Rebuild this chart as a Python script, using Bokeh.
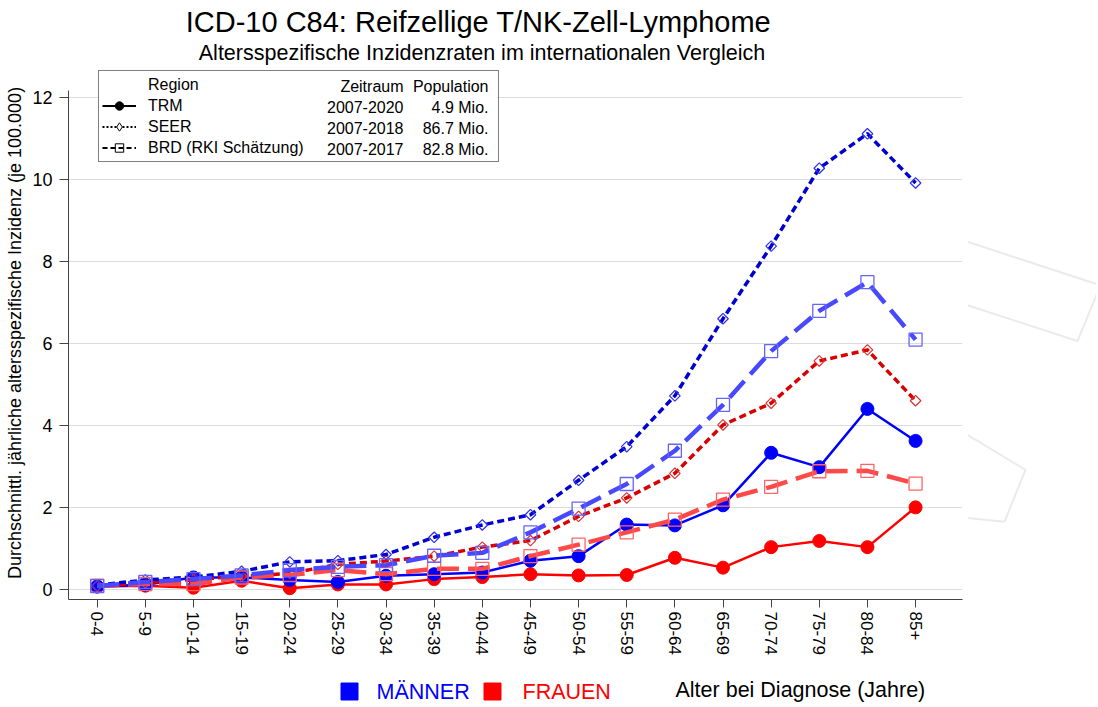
import math
from bokeh.plotting import figure
from bokeh.layouts import column, row
from bokeh.models import (Range1d, FixedTicker, SingleIntervalTicker, Legend, LegendItem,
                          Label, BoxAnnotation, ColumnDataSource)
from bokeh.core.properties import value
from bokeh.embed import file_html
from bokeh.resources import INLINE

# ---------------- data ----------------
ages = ["0-4", "5-9", "10-14", "15-19", "20-24", "25-29", "30-34", "35-39", "40-44",
        "45-49", "50-54", "55-59", "60-64", "65-69", "70-74", "75-79", "80-84", "85+"]

trm_men = [0.08, 0.12, 0.30, 0.30, 0.24, 0.19, 0.34, 0.38, 0.42, 0.71, 0.82, 1.59, 1.57,
           2.06, 3.34, 2.99, 4.41, 3.63]
trm_women = [0.08, 0.10, 0.05, 0.22, 0.04, 0.13, 0.13, 0.26, 0.31, 0.38, 0.35, 0.36, 0.78,
             0.54, 1.04, 1.19, 1.04, 2.01]
seer_men = [0.11, 0.24, 0.31, 0.45, 0.68, 0.71, 0.86, 1.28, 1.58, 1.83, 2.67, 3.49, 4.73,
            6.61, 8.38, 10.28, 11.12, 9.92]
seer_women = [0.09, 0.17, 0.25, 0.33, 0.40, 0.62, 0.70, 0.82, 1.04, 1.20, 1.79, 2.24, 2.84,
              4.02, 4.55, 5.58, 5.85, 4.61]
brd_men = [0.09, 0.19, 0.26, 0.35, 0.48, 0.56, 0.60, 0.83, 0.90, 1.40, 1.98, 2.58, 3.39,
           4.51, 5.82, 6.80, 7.50, 6.10]
brd_women = [0.10, 0.14, 0.14, 0.30, 0.36, 0.48, 0.38, 0.51, 0.51, 0.82, 1.10, 1.40, 1.71,
             2.20, 2.51, 2.89, 2.90, 2.59]

regions = ["TRM", "SEER", "BRD (RKI Schätzung)"]
zeitraum = ["2007-2020", "2007-2018", "2007-2017"]
population = ["4.9 Mio.", "86.7 Mio.", "82.8 Mio."]

title = "ICD-10 C84: Reifzellige T/NK-Zell-Lymphome"
subtitle = "Altersspezifische Inzidenzraten im internationalen Vergleich"
ylabel = "Durchschnittl. jährliche altersspezifische Inzidenz (je 100.000)"
xlabel = "Alter bei Diagnose (Jahre)"
sex_labels = ["MÄNNER", "FRAUEN"]
sex_colors = ["#0000FF", "#FF0000"]

FONT = "Liberation Sans"
W = 1096
TOP_H = 66
MID_H = 596
BOT_H = 43
MAIN_W = 967
NAN = float("nan")


def blank_fig(w, h, x0, x1, y_top, y_bot):
    f = figure(width=w, height=h, output_backend="svg", toolbar_location=None,
               x_range=Range1d(x0, x1), y_range=Range1d(y_bot, y_top),
               x_axis_type=None, y_axis_type=None,
               min_border_left=0, min_border_right=0, min_border_top=0,
               min_border_bottom=0)
    f.outline_line_color = None
    f.xgrid.visible = False
    f.ygrid.visible = False
    f.background_fill_color = "white"
    f.border_fill_color = "white"
    return f


# ---------------- title strip ----------------
top = blank_fig(W, TOP_H, 0, W, 0, TOP_H)
top.text(x=[478, 481.5], y=[21, 52], text=[title, subtitle], text_align="center",
         text_baseline="middle", text_font=value(FONT),
         text_font_size=["29px", "21.5px"], text_color="black")

# ---------------- main chart ----------------
x = list(range(len(ages)))

p = figure(width=MAIN_W, height=MID_H, output_backend="svg", toolbar_location=None,
           x_range=Range1d(-0.596, 17.975), y_range=Range1d(-0.237, 12.76),
           min_border_left=68, min_border_right=5, min_border_top=0,
           min_border_bottom=63)
p.outline_line_color = None
p.background_fill_color = "white"
p.border_fill_color = "white"

p.xgrid.visible = False
p.ygrid.grid_line_color = "#dcdcdc"
p.ygrid.grid_line_width = 1

p.yaxis.ticker = SingleIntervalTicker(interval=2)
p.yaxis.bounds = (-0.237, 12.18)
p.yaxis.axis_label = ylabel
p.yaxis.axis_label_text_font = FONT
p.yaxis.axis_label_text_font_size = "18px"
p.yaxis.axis_label_text_font_style = "normal"
p.yaxis.axis_label_text_color = "black"
p.yaxis.axis_label_standoff = 4
p.yaxis.major_label_text_font = FONT
p.yaxis.major_label_text_font_size = "18px"
p.yaxis.major_label_text_color = "black"
p.yaxis.major_label_standoff = 7
p.yaxis.major_tick_out = 9
p.yaxis.major_tick_in = 0
p.yaxis.minor_tick_line_color = None

p.xaxis.ticker = FixedTicker(ticks=x)
p.xaxis.major_label_overrides = {i: a for i, a in zip(x, ages)}
p.xaxis.major_label_orientation = -math.pi / 2
p.xaxis.major_label_text_font = FONT
p.xaxis.major_label_text_font_size = "17px"
p.xaxis.major_label_text_color = "black"
p.xaxis.major_label_standoff = 4
p.xaxis.major_tick_out = 8
p.xaxis.major_tick_in = 0
p.xaxis.minor_tick_line_color = None

for ax in (p.xaxis, p.yaxis):
    ax.axis_line_color = "#444444"
    ax.major_tick_line_color = "#444444"
    ax.axis_line_width = 1

# white panel behind the legend table (covers the grid line like the reference)
p.add_layout(BoxAnnotation(left=0.027, right=8.315, top=12.62, bottom=10.42,
                           fill_color="white", fill_alpha=1, line_color=None,
                           level="underlay"))


def series(vals, color, dash, width, marker, msize, mline, mfill, mlw, angle=0.0):
    src = ColumnDataSource(dict(x=x, y=vals))
    p.line("x", "y", source=src, line_color=color, line_width=width, line_dash=dash,
           line_join="round")
    p.scatter("x", "y", source=src, marker=marker, size=msize, line_color=mline,
              fill_color=mfill, line_width=mlw, angle=angle)


series(trm_women, "#FF0000", "solid", 2.5, "circle", 13, "#FF0000", "#FF0000", 1)
series(trm_men, "#0000FF", "solid", 2.5, "circle", 13, "#0000FF", "#0000FF", 1)
series(seer_women, "#D80000", "7 4", 3.5, "square", 7.5, "#E03030", None, 1.2, math.pi / 4)
series(seer_men, "#0000D0", "7 4", 3.5, "square", 7.5, "#3030F0", None, 1.2, math.pi / 4)
series(brd_women, "#FF4848", "22 9", 4.5, "square", 13, "#FF6464", None, 1.3)
series(brd_men, "#4848FF", "22 9", 4.5, "square", 13, "#6464FF", None, 1.3)

# legend (region table) with black sample glyphs (renderers hold one invisible NaN point)
r_hdr = p.line([NAN], [NAN], line_alpha=0)
r_trm_l = p.line([NAN], [NAN], line_color="black", line_width=2)
r_trm_m = p.scatter([NAN], [NAN], marker="circle", size=12, color="black")
r_seer_l = p.line([NAN], [NAN], line_color="black", line_width=2, line_dash="2 2")
r_seer_m = p.scatter([NAN], [NAN], marker="diamond", size=13,
                     line_color="black", fill_color="white", line_width=1)
r_brd_l = p.line([NAN], [NAN], line_color="black", line_width=2, line_dash="5 3")
r_brd_m = p.scatter([NAN], [NAN], marker="square", size=11, line_color="black",
                    fill_color=None, line_width=1)

leg = Legend(items=[LegendItem(label="Region", renderers=[r_hdr]),
                    LegendItem(label=regions[0], renderers=[r_trm_l, r_trm_m]),
                    LegendItem(label=regions[1], renderers=[r_seer_l, r_seer_m]),
                    LegendItem(label=regions[2], renderers=[r_brd_l, r_brd_m])],
             location=(30, 437), orientation="vertical",
             border_line_color="black", border_line_width=1.5,
             background_fill_alpha=0,
             padding=3, spacing=0, margin=0,
             glyph_width=34, glyph_height=21, label_height=21, label_standoff=12,
             label_width=347, label_text_font=FONT, label_text_font_size="16px",
             label_text_color="black")
p.add_layout(leg)

row_y = [85.5 - TOP_H, 106.5 - TOP_H, 127.5 - TOP_H, 148.5 - TOP_H]
cols = [("Zeitraum", zeitraum, 403), ("Population", population, 488)]
for head, vals, xr in cols:
    for txt, yy in zip([head] + vals, row_y):
        p.add_layout(Label(x=xr, y=yy, x_units="canvas", y_units="canvas", text=txt,
                           text_align="right", text_baseline="middle", text_font=FONT,
                           text_font_size="16px", text_color="black"))

# ---------------- faint background logo at the right ----------------
wm = blank_fig(W - MAIN_W, MID_H, MAIN_W, W, TOP_H, TOP_H + MID_H)
wm.multi_line(xs=[[967, 1098], [1098, 1077, 967], [967, 1025, 1004, 967]],
              ys=[[262, 310], [316, 373, 333], [478, 517, 575, 571]],
              line_color="#ebebeb", line_width=2)

# ---------------- bottom strip: sex legend + x-axis title ----------------
bot = blank_fig(W, BOT_H, 0, W, TOP_H + MID_H, TOP_H + MID_H + BOT_H)
bot.scatter(x=[349, 492], y=[691, 691], marker="square", size=17, color=sex_colors)
bot.text(x=[376, 522], y=[691, 691], text=sex_labels, text_color=sex_colors,
         text_align="left", text_baseline="middle", text_font=value(FONT),
         text_font_size="21.5px")
bot.text(x=[675], y=[689], text=[xlabel], text_color="black", text_align="left",
         text_baseline="middle", text_font=value(FONT), text_font_size="21.5px")

layout = column(top, row(p, wm), bot)
open("out.html", "w").write(file_html(layout, INLINE))
